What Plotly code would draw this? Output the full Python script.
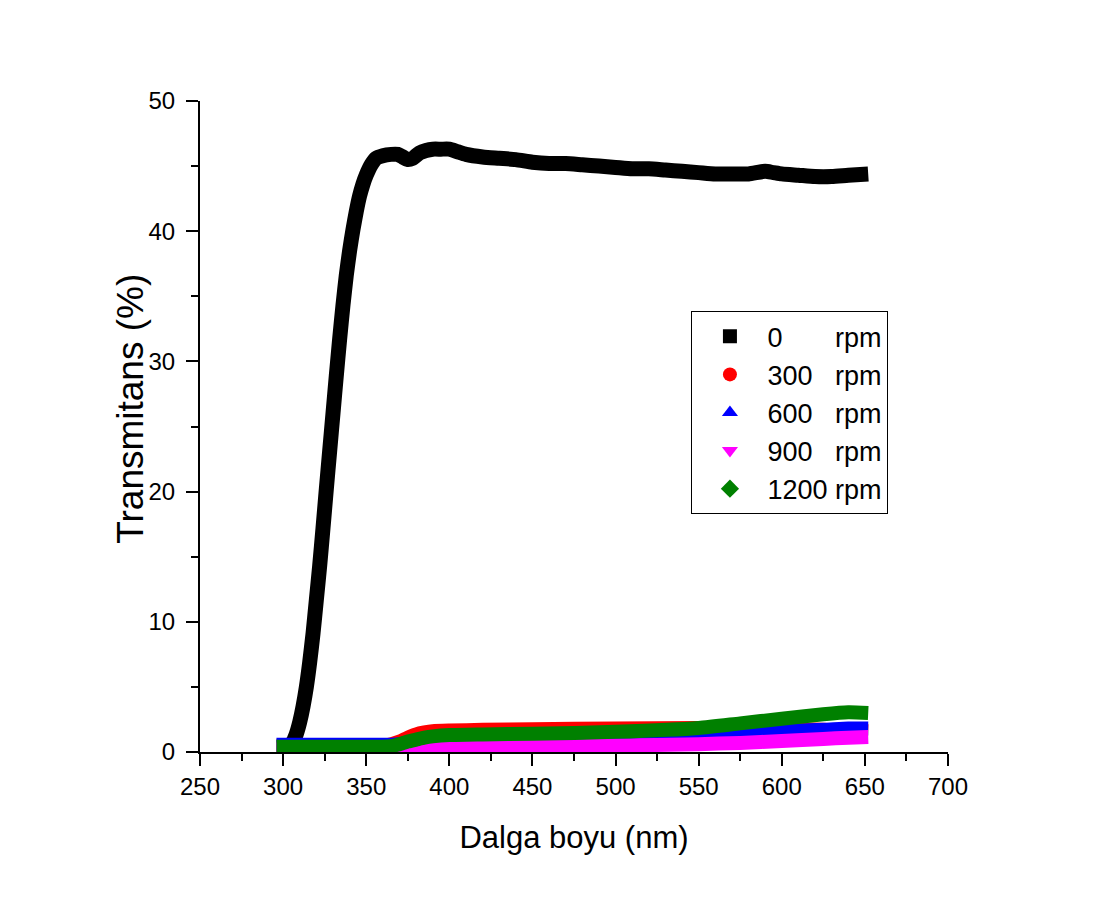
import plotly.graph_objects as go

# ---- data ----
x_0 = [300, 303, 306, 308, 310, 312, 314, 316, 318, 320, 322, 324, 326, 328, 330,
       332, 334, 336, 338, 340, 342, 344, 346, 348, 350, 353, 356, 360, 365, 369,
       372, 375, 378, 382, 386, 390, 395, 400, 405, 410, 420, 430, 440, 450, 460,
       470, 480, 490, 500, 510, 520, 530, 540, 550, 560, 570, 580, 590, 595, 600,
       610, 620, 630, 640, 652]
y_0 = [0.2, 0.4, 0.8, 1.4, 2.3, 3.5, 5.0, 6.9, 9.1, 11.7, 14.3, 17.2, 20.2, 23.1, 26.0,
       28.9, 31.7, 34.3, 36.6, 38.5, 40.1, 41.5, 42.7, 43.6, 44.3, 45.1, 45.6, 45.8, 45.9, 45.9,
       45.7, 45.5, 45.6, 46.0, 46.2, 46.3, 46.3, 46.3, 46.1, 45.9, 45.7, 45.6, 45.5, 45.3, 45.2,
       45.2, 45.1, 45.0, 44.9, 44.8, 44.8, 44.7, 44.6, 44.5, 44.4, 44.4, 44.4, 44.6, 44.5, 44.4,
       44.3, 44.2, 44.2, 44.3, 44.4]

x_low = [296, 320, 340, 360, 365, 370, 375, 380, 385, 390, 400, 420, 450, 500, 550, 575, 600, 625, 640, 652]
y_300 = [0.45, 0.45, 0.45, 0.5, 0.6, 0.8, 1.1, 1.35, 1.5, 1.6, 1.65, 1.7, 1.75, 1.8, 1.85, 1.85, 1.8, 1.7, 1.65, 1.6]
y_600 = [0.55, 0.55, 0.55, 0.55, 0.55, 0.6, 0.75, 0.9, 1.0, 1.05, 1.1, 1.1, 1.15, 1.25, 1.4, 1.5, 1.6, 1.7, 1.8, 1.8]
y_900 = [0.2, 0.25, 0.25, 0.25, 0.25, 0.25, 0.2, 0.2, 0.25, 0.25, 0.3, 0.35, 0.4, 0.5, 0.6, 0.7, 0.85, 1.0, 1.1, 1.15]
y_1200 = [0.4, 0.4, 0.4, 0.4, 0.45, 0.6, 0.8, 0.95, 1.1, 1.2, 1.3, 1.35, 1.4, 1.55, 1.85, 2.2, 2.55, 2.9, 3.05, 3.0]

legend_labels = ["0", "300", "600", "900", "1200"]
colors = ["#000000", "#ff0000", "#0000ff", "#ff00ff", "#008000"]
symbols = ["square", "circle", "triangle-up", "triangle-down", "diamond"]

series_x = [x_0, x_low, x_low, x_low, x_low]
series_y = [y_0, y_300, y_600, y_900, y_1200]
line_widths = [15, 14, 14, 14, 14]

FONT = "Arial, 'Liberation Sans', sans-serif"
NB = "\u00a0"

fig = go.Figure()
for xs, ys, c, w in zip(series_x, series_y, colors, line_widths):
    fig.add_trace(go.Scatter(x=xs, y=ys, mode="lines",
                             line=dict(color=c, width=w, shape="spline", smoothing=0.6),
                             showlegend=False, hoverinfo="skip"))

for i, (lab, c, s) in enumerate(zip(legend_labels, colors, symbols)):
    pad = NB * (2 * (4 - len(lab)) + 1)
    fig.add_trace(go.Scatter(x=[None], y=[None], mode="markers",
                             marker=dict(color=c, symbol=s, size=14),
                             name=lab + pad + "rpm", legendgroup="g%d" % i,
                             showlegend=True))

axis_common = dict(showline=True, linecolor="black", linewidth=2, ticks="outside",
                   tickcolor="black", tickwidth=2, ticklen=12, showgrid=False,
                   zeroline=False, mirror=False,
                   tickfont=dict(family=FONT, size=24, color="black"))

fig.update_xaxes(range=[250, 700], tick0=250, dtick=50,
                 minor=dict(dtick=25, ticks="outside", ticklen=7, tickwidth=2, tickcolor="black"),
                 title=dict(text="Dalga boyu (nm)", font=dict(family=FONT, size=31, color="black"), standoff=28),
                 **axis_common)
fig.update_yaxes(range=[0, 50], tick0=0, dtick=10,
                 minor=dict(dtick=5, ticks="outside", ticklen=7, tickwidth=2, tickcolor="black"),
                 ticklabelstandoff=6,
                 **axis_common)

fig.add_annotation(text="Transmitans (%)", textangle=-90, showarrow=False,
                   xref="paper", yref="paper", x=-0.0925, y=0.527,
                   xanchor="center", yanchor="middle",
                   font=dict(family=FONT, size=37, color="black"))

fig.update_layout(
    width=1095, height=899,
    margin=dict(l=192, r=155, t=93, b=155),
    paper_bgcolor="white", plot_bgcolor="white",
    font=dict(family=FONT, color="black"),
    legend=dict(x=0.657, y=0.677, xanchor="left", yanchor="top",
                bgcolor="white", bordercolor="black", borderwidth=1,
                font=dict(family=FONT, size=27, color="black"),
                traceorder="grouped", tracegroupgap=0, itemwidth=65),
)

fig.write_html("out.html")
